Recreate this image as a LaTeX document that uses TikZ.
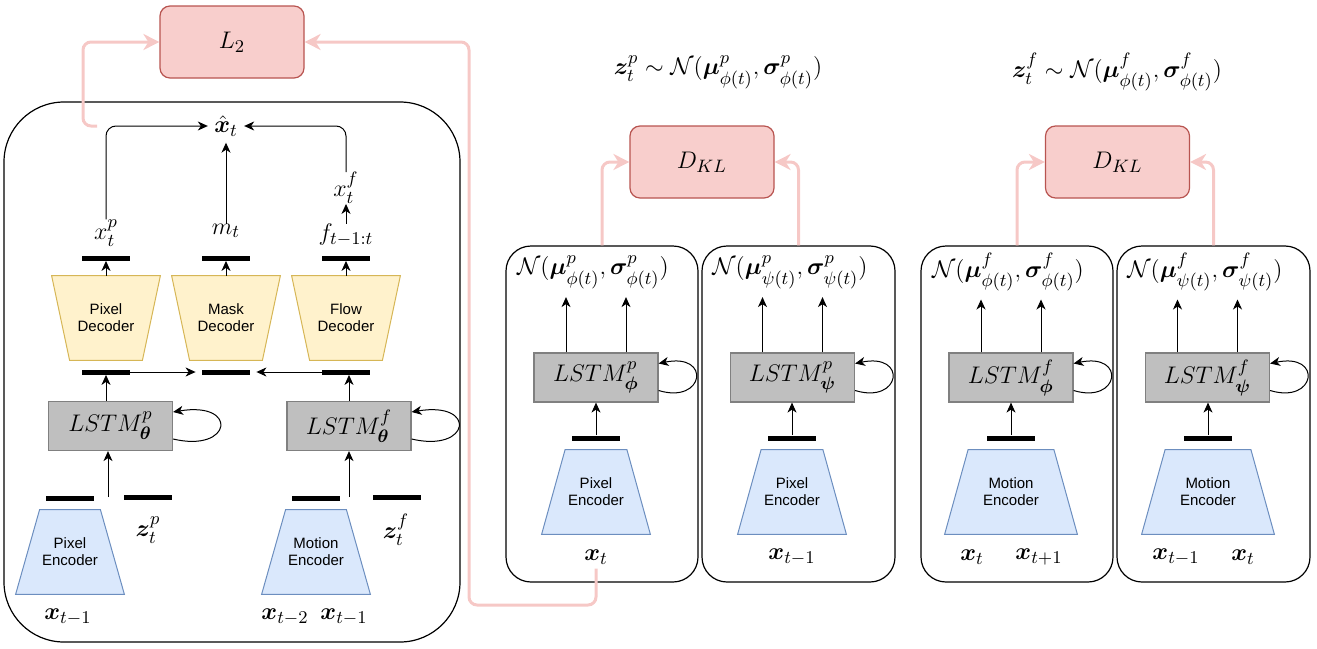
\documentclass[tikz,border=0pt]{standalone}
\usepackage{amsmath,amssymb,bm}
\usepackage{fontspec}
\setsansfont{Liberation Sans}
\usetikzlibrary{arrows.meta,calc,backgrounds}
\definecolor{redfill}{RGB}{248,206,204}
\definecolor{redline}{RGB}{184,84,80}
\definecolor{pinkline}{RGB}{246,200,198}
\definecolor{decfill}{RGB}{255,242,204}
\definecolor{decline}{RGB}{214,182,86}
\definecolor{encfill}{RGB}{218,232,252}
\definecolor{encline}{RGB}{108,142,191}
\definecolor{lstmfill}{RGB}{191,191,191}
\definecolor{lstmline}{RGB}{128,128,128}
\newcommand\DecShape[1]{\draw[decst] (#1.north west) -- (#1.north east) -- ([xshift=-9pt]#1.south east) -- ([xshift=9pt]#1.south west) -- cycle;}
\newcommand\EncShape[2]{\draw[encst] ([xshift=#2]#1.north west) -- ([xshift=-#2]#1.north east) -- (#1.south east) -- (#1.south west) -- cycle;}
\newcommand\LoopArc[2]{\draw[arr] ([yshift=-6.5pt]#1.east) .. controls +(#2,14) and +(#2+7,-11) .. ([yshift=7pt]#1.east);}
\begin{document}
\begin{tikzpicture}[x=0.5pt,y=-0.5pt,
  lbl/.style={inner sep=0pt, font=\fontsize{12.5}{14}\selectfont},
  tlbl/.style={inner sep=0pt, font=\fontsize{13}{15}\selectfont},
  nlbl/.style={inner xsep=0pt, inner ysep=4pt, font=\fontsize{13}{15}\selectfont},
  lbox/.style={draw=redline, fill=redfill, rounded corners=5pt, minimum width=72pt, minimum height=36pt, line width=0.6pt, font=\fontsize{13}{15}\selectfont},
  lstm/.style={draw=lstmline, fill=lstmfill, minimum width=62pt, minimum height=24.5pt, inner sep=0pt, line width=0.6pt, font=\fontsize{12.5}{14}\selectfont},
  bar/.style={fill=black, minimum width=24pt, minimum height=2.5pt, inner sep=0pt},
  arr/.style={-{Stealth[length=5pt,width=4.5pt,inset=1.5pt]}, line width=0.5pt},
  parr/.style={draw=pinkline, line width=1.5pt, -{Stealth[length=8pt,width=8pt,inset=2.5pt]}, rounded corners=4pt},
  panel/.style={draw, line width=0.6pt, rounded corners=12.5pt, minimum height=168pt, inner sep=0pt},
  tz/.style={minimum width=54pt, minimum height=42pt, inner sep=0pt, align=center, font=\sffamily\fontsize{7.5}{8.5}\selectfont},
  decst/.style={draw=decline, fill=decfill, line width=0.5pt},
  encst/.style={draw=encline, fill=encfill, line width=0.5pt}]
\useasboundingbox (0,0) rectangle (1317,648);

% ---------------- left panel ----------------
\node[lbox] (L2) at (232,42) {$L_2$};
\node[draw, line width=0.6pt, rounded corners=30pt, minimum width=228pt, minimum height=270pt, inner sep=0pt] (lp) at (232,372) {};
\node[lbl, inner sep=3pt] (xhat) at (226,126) {$\hat{\boldsymbol{x}}_t$};
\node[lbl] (xp) at (106,233) {$x^p_t$};
\node[lbl] (mt) at (226,231) {$m_t$};
\node[lbl] (ff) at (346,235) {$f_{t-1:t}$};
\node[lbl] (xf) at (346,188) {$x^f_t$};
\node[bar] (bp1) at (106,258) {};
\node[bar] (bm1) at (226,258) {};
\node[bar] (bf1) at (346,258) {};
\node[tz] (pdec) at (106,318) {Pixel\\Decoder};
\node[tz] (mdec) at (226,318) {Mask\\Decoder};
\node[tz] (fdec) at (346,318) {Flow\\Decoder};
\node[bar] (bp2) at (106,372) {};
\node[bar] (bm2) at (226,372) {};
\node[bar] (bf2) at (346,372) {};
\node[lstm] (lstmp) at (110.5,426) {$LSTM^p_{\boldsymbol{\theta}}$};
\node[lstm] (lstmf) at (349,426) {$LSTM^f_{\boldsymbol{\theta}}$};
\node[bar] (bpe) at (70,498) {};
\node[bar] (bzp) at (148,497) {};
\node[bar] (bme) at (316,498) {};
\node[bar] (bzf) at (397,497) {};
\coordinate (pin) at (108,497);
\coordinate (fin) at (349,497);
\node[lbl] (zp) at (148,530) {$\boldsymbol{z}^p_t$};
\node[lbl] (zf) at (396,530) {$\boldsymbol{z}^f_t$};
\node[tz] (penc) at (70,552) {Pixel\\Encoder};
\node[tz] (menc) at (316,552) {Motion\\Encoder};
\node[lbl] (xa) at (68,617) {$\boldsymbol{x}_{t-1}$};
\node[lbl] (xb) at (285,617) {$\boldsymbol{x}_{t-2}$};
\node[lbl] (xc) at (344,617) {$\boldsymbol{x}_{t-1}$};

\draw[arr, rounded corners=5pt] (xp.north) |- (xhat.west);
\draw[arr] (mt.north) -- (xhat.south);
\draw[arr, rounded corners=5pt] (xf.north) |- (xhat.east);
\draw[arr] (ff.north) -- (xf.south);
\draw[arr] (pdec.north) -- (bp1.south);
\draw[arr] (mdec.north) -- (bm1.south);
\draw[arr] (fdec.north) -- (bf1.south);
\draw[arr, shorten >=3pt] (bp2.east) -- (bm2.west);
\draw[arr, shorten >=3pt] (bf2.west) -- (bm2.east);
\draw[arr] (bp2.south |- lstmp.north) -- (bp2.south);
\draw[arr] (lstmf.north) -- (lstmf.north |- bf2.south);
\draw[arr] (pin) -- (pin |- lstmp.south);
\draw[arr] (fin) -- (fin |- lstmf.south);
\LoopArc{lstmp}{59}
\LoopArc{lstmf}{59}

% ---------------- middle panels ----------------
\node[tlbl] (tp) at (718,72) {$\boldsymbol{z}^p_t \sim \mathcal{N}(\boldsymbol{\mu}^p_{\phi(t)}, \boldsymbol{\sigma}^p_{\phi(t)})$};
\node[lbox] (dkl1) at (702,162) {$D_{KL}$};
\node[panel, minimum width=96pt] (p1) at (602,414) {};
\node[panel, minimum width=96.5pt] (p2) at (798.5,414) {};
\node[nlbl] (n1) at (593,272) {$\mathcal{N}(\boldsymbol{\mu}^p_{\phi(t)}, \boldsymbol{\sigma}^p_{\phi(t)})$};
\node[nlbl] (n2) at (790,272) {$\mathcal{N}(\boldsymbol{\mu}^p_{\psi(t)}, \boldsymbol{\sigma}^p_{\psi(t)})$};
\node[lstm] (lstm1) at (596,377.5) {$LSTM^p_{\boldsymbol{\phi}}$};
\node[lstm] (lstm2) at (792.5,377.5) {$LSTM^p_{\boldsymbol{\psi}}$};
\node[bar] (b1) at (596,438) {};
\node[bar] (b2) at (792,438) {};
\node[tz] (enc1) at (596,492) {Pixel\\Encoder};
\node[tz] (enc2) at (792,492) {Pixel\\Encoder};
\node[lbl] (xt1) at (596,557) {$\boldsymbol{x}_t$};
\node[lbl] (xt2) at (792,557) {$\boldsymbol{x}_{t-1}$};

\draw[arr] ([xshift=-15pt]lstm1.north) -- ([xshift=-15pt]lstm1.north |- n1.south);
\draw[arr] ([xshift=15pt]lstm1.north) -- ([xshift=15pt]lstm1.north |- n1.south);
\draw[arr] ([xshift=-15pt]lstm2.north) -- ([xshift=-15pt]lstm2.north |- n2.south);
\draw[arr] ([xshift=15pt]lstm2.north) -- ([xshift=15pt]lstm2.north |- n2.south);
\draw[arr] (b1.north) -- (lstm1.south);
\draw[arr] (b2.north) -- (b2.north |- lstm2.south);
\LoopArc{lstm1}{46}
\LoopArc{lstm2}{46}

% ---------------- right panels ----------------
\node[tlbl] (tf) at (1117,72) {$\boldsymbol{z}^f_t \sim \mathcal{N}(\boldsymbol{\mu}^f_{\phi(t)}, \boldsymbol{\sigma}^f_{\phi(t)})$};
\node[lbox] (dkl2) at (1117.5,162) {$D_{KL}$};
\node[panel, minimum width=96pt] (p3) at (1017,414) {};
\node[panel, minimum width=96.5pt] (p4) at (1213.5,414) {};
\node[nlbl] (n3) at (1008,272) {$\mathcal{N}(\boldsymbol{\mu}^f_{\phi(t)}, \boldsymbol{\sigma}^f_{\phi(t)})$};
\node[nlbl] (n4) at (1205,272) {$\mathcal{N}(\boldsymbol{\mu}^f_{\psi(t)}, \boldsymbol{\sigma}^f_{\psi(t)})$};
\node[lstm] (lstm3) at (1011,377.5) {$LSTM^f_{\boldsymbol{\phi}}$};
\node[lstm] (lstm4) at (1207.5,377.5) {$LSTM^f_{\boldsymbol{\psi}}$};
\node[bar] (b3) at (1011,438) {};
\node[bar] (b4) at (1208,438) {};
\node[tz, minimum width=66pt] (enc3) at (1011,492) {Motion\\Encoder};
\node[tz, minimum width=66pt] (enc4) at (1208,492) {Motion\\Encoder};
\node[lbl] (xt3a) at (972,557) {$\boldsymbol{x}_t$};
\node[lbl] (xt3b) at (1039,557) {$\boldsymbol{x}_{t+1}$};
\node[lbl] (xt4a) at (1176,557) {$\boldsymbol{x}_{t-1}$};
\node[lbl] (xt4b) at (1243,557) {$\boldsymbol{x}_t$};

\draw[arr] ([xshift=-15pt]lstm3.north) -- ([xshift=-15pt]lstm3.north |- n3.south);
\draw[arr] ([xshift=15pt]lstm3.north) -- ([xshift=15pt]lstm3.north |- n3.south);
\draw[arr] ([xshift=-15pt]lstm4.north) -- ([xshift=-15pt]lstm4.north |- n4.south);
\draw[arr] ([xshift=15pt]lstm4.north) -- ([xshift=15pt]lstm4.north |- n4.south);
\draw[arr] (b3.north) -- (lstm3.south);
\draw[arr] (b4.north) -- (b4.north |- lstm4.south);
\LoopArc{lstm3}{46}
\LoopArc{lstm4}{46}

% ---------------- pink connectors ----------------
\coordinate (pl) at (97,126);
\draw[parr] (pl) -- (83,126) |- (L2.west);
\draw[parr] ([yshift=-2pt]xt1.south) |- (469,605) |- (L2.east);
\draw[parr] (p1.north) |- (dkl1.west);
\draw[parr] (p2.north) |- (dkl1.east);
\draw[parr] (p3.north) |- (dkl2.west);
\draw[parr] (p4.north) |- (dkl2.east);

% ---------------- trapezoids ----------------
\begin{pgfonlayer}{background}
\DecShape{pdec}
\DecShape{mdec}
\DecShape{fdec}
\EncShape{penc}{12pt}
\EncShape{menc}{12pt}
\EncShape{enc1}{11.75pt}
\EncShape{enc2}{11.75pt}
\EncShape{enc3}{11.75pt}
\EncShape{enc4}{11.75pt}
\end{pgfonlayer}
\end{tikzpicture}
\end{document}
